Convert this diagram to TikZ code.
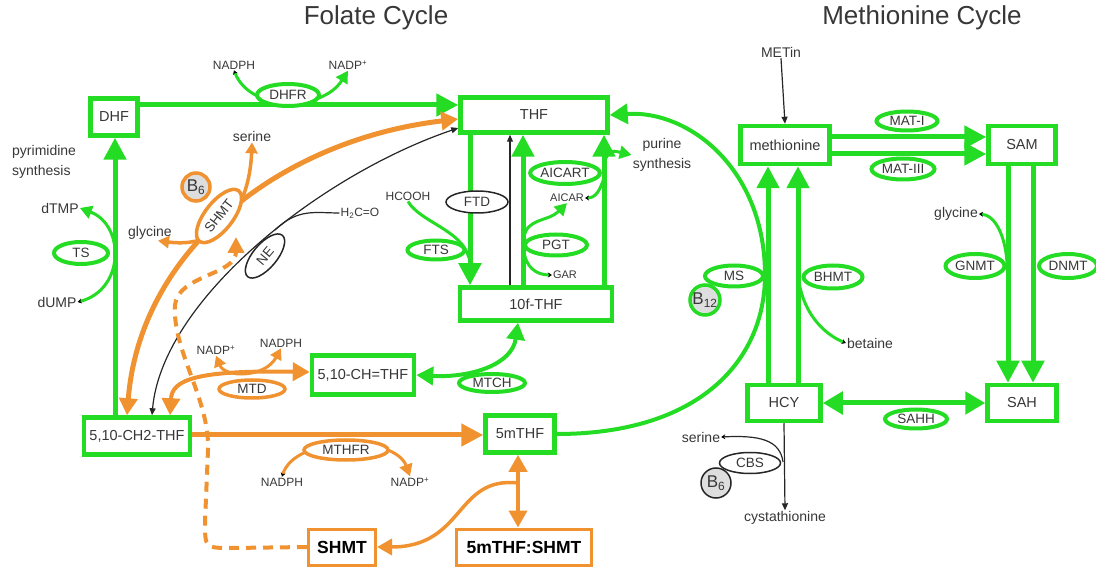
\documentclass[tikz,border=0pt]{standalone}
\usepackage{fontspec}
\setmainfont{Liberation Sans}
\usetikzlibrary{arrows.meta,shapes.geometric}
\definecolor{grn}{RGB}{35,220,35}
\definecolor{org}{RGB}{240,146,48}
\definecolor{cof}{RGB}{222,222,222}
\definecolor{txt}{RGB}{55,55,55}

\begin{document}
\begin{tikzpicture}[x=1pt,y=-1pt,
  box/.style={draw=grn,line width=4.5pt,fill=white,text=txt,inner sep=0,font=\fontsize{14.5}{16}\selectfont},
  obox/.style={draw=org,line width=3pt,fill=white,inner sep=0,font=\fontsize{17.5}{19}\selectfont\bfseries},
  enz/.style={ellipse,draw=grn,line width=4pt,fill=white,text=txt,inner sep=0,font=\fontsize{13.5}{15}\selectfont},
  oenz/.style={enz,draw=org,line width=3.5pt},
  kenz/.style={enz,draw=black!85,line width=1.5pt},
  vit/.style={circle,fill=cof,text=txt,inner sep=0,minimum size=30pt,font=\fontsize{17}{19}\selectfont},
  lbl/.style={text=txt,inner sep=1pt,font=\fontsize{14}{20}\selectfont},
  slbl/.style={lbl,font=\fontsize{12}{14}\selectfont},
  tlbl/.style={lbl,font=\fontsize{11}{13}\selectfont},
  gar/.style={draw=grn,line width=5pt,-{Triangle[length=22pt,width=22pt]}},
  gdar/.style={draw=grn,line width=5pt,{Triangle[length=20pt,width=22pt]}-{Triangle[length=20pt,width=22pt]}},
  mdar/.style={draw=grn,line width=4pt,{Triangle[length=17pt,width=18pt]}-{Triangle[length=17pt,width=18pt]}},
  oar/.style={gar,draw=org},
  odar/.style={mdar,draw=org},
  gln/.style={draw=grn,line width=3pt},
  kln/.style={draw=black!85,line width=1.2pt},
  gside/.style={gln,-{Triangle[length=12pt,width=13pt]}},
  gtt/.style={gln,{Stealth[black,length=4pt,width=5pt]}-{Triangle[length=12pt,width=13pt]}},
  oside/.style={gside,draw=org},
  otwo/.style={gln,draw=org,{Triangle[length=11pt,width=12pt]}-{Triangle[length=11pt,width=12pt]}},
  ott/.style={gtt,draw=org},
  tk/.style={-{Stealth[black,length=4pt,width=5pt]}},
  kar/.style={kln,-{Triangle[length=7pt,width=6pt]}},
  kdar/.style={kln,{Triangle[length=7pt,width=6pt]}-{Triangle[length=7pt,width=6pt]}}
]
\useasboundingbox (0,0) rectangle (1096,569);

\node[font=\fontsize{26}{28}\selectfont,text=txt] (tfol) at (376,18) {Folate Cycle};
\node[font=\fontsize{26}{28}\selectfont,text=txt] (tmet) at (922,18) {Methionine Cycle};

\node[box,minimum width=47pt,minimum height=37pt] (DHF) at (114,117) {DHF};
\node[box,minimum width=147pt,minimum height=35pt] (THF) at (534,115) {THF};
\node[box,minimum width=152pt,minimum height=33pt] (tenf) at (536,304) {10f-THF};
\node[box,minimum width=102pt,minimum height=39pt] (CHTHF) at (363,375) {5,10-CH=THF};
\node[box,minimum width=106pt,minimum height=37pt] (CHtwo) at (137,436) {5,10-CH2-THF};
\node[box,minimum width=69pt,minimum height=37pt] (mTHF) at (520,434) {5mTHF};
\node[obox,minimum width=67pt,minimum height=36pt] (SHMTb) at (342,547) {SHMT};
\node[obox,minimum width=135pt,minimum height=36pt] (cplx) at (524,547) {5mTHF:SHMT};
\node[box,minimum width=89pt,minimum height=38pt] (met) at (785,145) {methionine};
\node[box,minimum width=67pt,minimum height=38pt] (SAM) at (1022,145) {SAM};
\node[box,minimum width=73pt,minimum height=36pt] (HCY) at (784,403) {HCY};
\node[box,minimum width=69pt,minimum height=36pt] (SAH) at (1022,403) {SAH};

\node[slbl] (nadphA) at (234,65) {NADPH};
\node[slbl] (nadpA) at (348,65) {NADP\textsuperscript{+}};
\node[lbl] (serA) at (252,136) {serine};
\node[lbl] (glyA) at (150,233) {glycine};
\node[lbl,align=left,anchor=west] (pyr) at (11,162) {pyrimidine\\synthesis};
\node[lbl] (dTMP) at (60,208) {dTMP};
\node[lbl] (dUMP) at (57,302) {dUMP};
\node[slbl] (hco) at (360,213) {H\textsubscript{2}C=O};
\node[slbl] (hcooh) at (408,196) {HCOOH};
\node[tlbl] (aicar) at (567,198) {AICAR};
\node[tlbl] (gar) at (565,275) {GAR};
\node[lbl,align=center] (pur) at (662,155) {purine\\synthesis};
\node[slbl] (nadpB) at (216,350) {NADP\textsuperscript{+}};
\node[slbl] (nadphB) at (281,343) {NADPH};
\node[slbl] (nadphC) at (282,482) {NADPH};
\node[slbl] (nadpC) at (410,482) {NADP\textsuperscript{+}};
\node[lbl] (metin) at (781,52) {METin};
\node[lbl] (glyB) at (956,214) {glycine};
\node[lbl] (bet) at (870,343) {betaine};
\node[lbl] (serB) at (701,437) {serine};
\node[lbl] (cys) at (785,518) {cystathionine};

\coordinate (fts1) at (469,258);
\coordinate (pg1) at (524,238);
\coordinate (pg2) at (524,252);
\coordinate (ai1) at (604,178);
\coordinate (pu1) at (604,162);
\coordinate (ne1) at (275,230);
\coordinate (sm1) at (518,483);
\coordinate (dsh) at (236,237);
\coordinate (bh1) at (799,282);
\coordinate (gn1) at (1007,262);
\coordinate (cb1) at (783,462);

\draw[gar] (DHF.east |- 0,105) -- (THF.west |- 0,105);
\draw[gtt] (nadphA.south) .. controls (250,112) and (322,112) .. (nadpA.south);
\draw[gar] (CHtwo.north -| 115,0) -- (DHF.south -| 115,0);
\draw[gtt] (dUMP.east) .. controls (125,290) and (125,225) .. (dTMP.east);
\draw[gar] (THF.south -| 470,0) -- (tenf.north -| 470,0);
\draw[kar] (tenf.north -| 510,0) -- (THF.south -| 510,0);
\draw[gar] (tenf.north -| 523,0) -- (THF.south -| 523,0);
\draw[gar] (tenf.north -| 604,0) -- (THF.south -| 604,0);
\draw[gln] (hcooh.south) .. controls (420,222) and (462,230) .. (fts1);
\draw[gside] (pg1) .. controls (526,218) and (548,222) .. (aicar.south);
\draw[gln,tk] (pg2) .. controls (526,266) and (535,275) .. (gar.west);
\draw[gln,tk] (ai1) .. controls (600,190) and (596,198) .. (aicar.east);
\draw[gside] (pu1) .. controls (610,150) .. (pur.west);
\draw[mdar] (CHTHF.east) .. controls (470,378) and (512,365) .. ([xshift=-18pt]tenf.south);
\draw[gar,line width=4pt,-{Triangle[length=18pt,width=20pt]}] (mTHF.east) .. controls (700,434) and (765,360) .. (765,275) .. controls (765,170) and (690,110) .. (THF.east);

\draw[gar] (HCY.north -| 768,0) -- (met.south -| 768,0);
\draw[gar] (HCY.north -| 798,0) -- (met.south -| 798,0);
\draw[gar] (met.east |- 0,137) -- (SAM.west |- 0,137);
\draw[gar] (met.east |- 0,154) -- (SAM.west |- 0,154);
\draw[kar] (metin.south) -- (met.north);
\draw[gar] (SAM.south -| 1008,0) -- (SAH.north -| 1008,0);
\draw[gar] (SAM.south -| 1033,0) -- (SAH.north -| 1033,0);
\draw[gdar] (HCY.east) -- (SAH.west);
\draw[kar] (HCY.south) -- (cys.north);
\draw[gln,tk] (bh1) .. controls (805,318) and (828,336) .. (bet.west);
\draw[gln,tk] (gn1) .. controls (1005,235) and (995,215) .. (glyB.east);
\draw[kln,tk] (cb1) .. controls (780,440) and (760,435) .. (serB.east);

\draw[odar,line width=5pt] (CHtwo.north -| 127,0) .. controls (140,250) and (280,140) .. ([yshift=-4pt]THF.west);
\draw[kdar] (CHtwo.north -| 152,0) .. controls (162,300) and (320,175) .. ([yshift=-13pt]THF.west);
\draw[kln] (ne1) .. controls (298,208) and (315,213) .. (hco.west);
\draw[otwo,line width=3.5pt] ([xshift=8pt]glyA.south) .. controls (230,250) and (250,195) .. (serA.south);
\draw[odar] ([xshift=33pt]CHtwo.north) .. controls (172,380) and (195,370) .. ([yshift=3pt]CHTHF.west);
\draw[otwo] (nadpB.south) .. controls (225,378) and (265,378) .. (nadphB.south);
\draw[oar] (CHtwo.east |- 0,435) -- (mTHF.west |- 0,435);
\draw[ott] (nadphC.north) .. controls (295,435) and (395,435) .. (nadpC.north);
\draw[odar] (mTHF.south -| 518,0) -- (cplx.north -| 518,0);
\draw[oside,line width=3.5pt,-{Triangle[length=15pt,width=16pt]}] (sm1) .. controls (455,476) and (465,547) .. (SHMTb.east);
\draw[org,line width=4pt,dash pattern=on 10pt off 7pt,-{Triangle[length=16pt,width=16pt]}] (SHMTb.west) -- (232,548) .. controls (205,548) .. (205,522) -- (208,450) .. controls (210,400) and (172,350) .. (175,305) .. controls (178,275) and (236,275) .. (dsh);

\node[enz,minimum width=62pt,minimum height=22pt] (DHFR) at (288,95) {DHFR};
\node[enz,minimum width=54pt,minimum height=22pt] (TS) at (81,253) {TS};
\node[oenz,rotate=52,minimum width=64pt,minimum height=28pt] (SHMTe) at (219,216) {SHMT};
\node[vit,draw=org,line width=3.5pt,minimum size=28pt] (Bsix) at (196,187) {B\textsubscript{6}};
\node[kenz,rotate=50,minimum width=54pt,minimum height=24pt] (NE) at (265,256) {NE};
\node[kenz,minimum width=62pt,minimum height=22pt] (FTD) at (477,202) {FTD};
\node[enz,minimum width=57pt,minimum height=19pt] (FTS) at (436,250) {FTS};
\node[enz,minimum width=66pt,minimum height=22pt] (AICART) at (565,173) {AICART};
\node[enz,minimum width=62pt,minimum height=21pt] (PGT) at (556,245) {PGT};
\node[enz,minimum width=66pt,minimum height=18pt] (MTCH) at (492,383) {MTCH};
\node[oenz,minimum width=66pt,minimum height=18pt] (MTD) at (252,389) {MTD};
\node[oenz,minimum width=84pt,minimum height=20pt] (MTHFR) at (346,450) {MTHFR};
\node[enz,minimum width=61pt,minimum height=19pt] (MATI) at (907,121) {MAT-I};
\node[enz,minimum width=63pt,minimum height=21pt] (MATIII) at (903,169) {MAT-III};
\node[enz,minimum width=58pt,minimum height=21pt] (MS) at (734,276) {MS};
\node[vit,draw=grn,line width=3.5pt] (Btwelve) at (705,300) {B\textsubscript{12}};
\node[enz,minimum width=59pt,minimum height=23pt] (BHMT) at (833,277) {BHMT};
\node[enz,minimum width=59pt,minimum height=24pt] (GNMT) at (975,266) {GNMT};
\node[enz,minimum width=58pt,minimum height=24pt] (DNMT) at (1068,266) {DNMT};
\node[enz,minimum width=62pt,minimum height=19pt] (SAHH) at (916,419) {SAHH};
\node[kenz,minimum width=61pt,minimum height=21pt] (CBS) at (750,463) {CBS};
\node[vit,draw=black!85,line width=1.5pt] (Bsixb) at (716,483) {B\textsubscript{6}};
\end{tikzpicture}
\end{document}
